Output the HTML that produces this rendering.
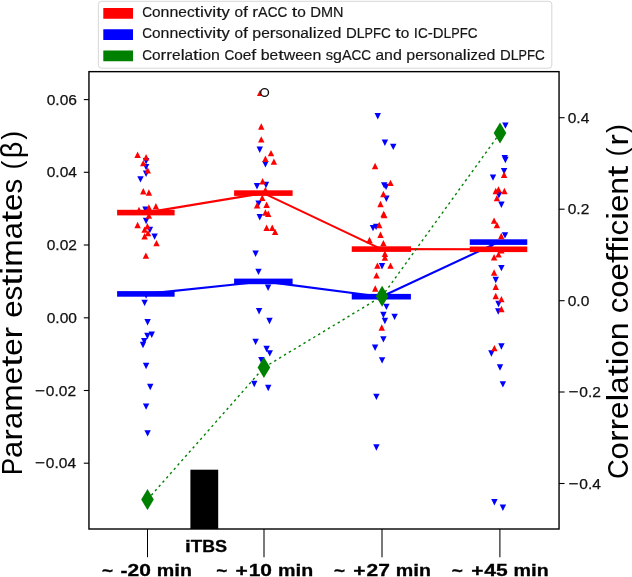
<!DOCTYPE html>
<html><head><meta charset="utf-8"><title>Figure</title>
<style>
html,body{margin:0;padding:0;background:#fff;}
body{width:632px;height:577px;overflow:hidden;font-family:"Liberation Sans",sans-serif;}
svg{display:block;will-change:transform;filter:blur(0.4px);}
text{font-family:"Liberation Sans",sans-serif;}
</style></head><body>
<svg width="632" height="577" viewBox="0 0 632 577">
<rect width="632" height="577" fill="#fff"/>

<rect x="190.4" y="469.7" width="27.8" height="59.3" fill="#000"/>
<g>
<path d="M146.10 164.45L149.30 158.05L142.90 158.05Z" fill="#0000ff"/>
<path d="M146.10 170.30L149.30 163.90L142.90 163.90Z" fill="#0000ff"/>
<path d="M146.10 176.95L149.30 170.55L142.90 170.55Z" fill="#0000ff"/>
<path d="M140.50 182.60L143.70 176.20L137.30 176.20Z" fill="#0000ff"/>
<path d="M145.50 212.90L148.70 206.50L142.30 206.50Z" fill="#0000ff"/>
<path d="M146.10 224.20L149.30 217.80L142.90 217.80Z" fill="#0000ff"/>
<path d="M149.90 233.20L153.10 226.80L146.70 226.80Z" fill="#0000ff"/>
<path d="M154.60 239.80L157.80 233.40L151.40 233.40Z" fill="#0000ff"/>
<path d="M146.10 298.70L149.30 292.30L142.90 292.30Z" fill="#0000ff"/>
<path d="M144.60 306.10L147.80 299.70L141.40 299.70Z" fill="#0000ff"/>
<path d="M147.60 325.45L150.80 319.05L144.40 319.05Z" fill="#0000ff"/>
<path d="M151.75 337.95L154.95 331.55L148.55 331.55Z" fill="#0000ff"/>
<path d="M147.40 339.20L150.60 332.80L144.20 332.80Z" fill="#0000ff"/>
<path d="M144.25 344.45L147.45 338.05L141.05 338.05Z" fill="#0000ff"/>
<path d="M143.00 348.20L146.20 341.80L139.80 341.80Z" fill="#0000ff"/>
<path d="M146.10 369.20L149.30 362.80L142.90 362.80Z" fill="#0000ff"/>
<path d="M150.25 390.20L153.45 383.80L147.05 383.80Z" fill="#0000ff"/>
<path d="M146.10 409.80L149.30 403.40L142.90 403.40Z" fill="#0000ff"/>
<path d="M147.60 436.60L150.80 430.20L144.40 430.20Z" fill="#0000ff"/>
<path d="M259.75 152.95L262.95 146.55L256.55 146.55Z" fill="#0000ff"/>
<path d="M265.40 167.60L268.60 161.20L262.20 161.20Z" fill="#0000ff"/>
<path d="M257.00 189.45L260.20 183.05L253.80 183.05Z" fill="#0000ff"/>
<path d="M266.00 188.20L269.20 181.80L262.80 181.80Z" fill="#0000ff"/>
<path d="M258.60 206.80L261.80 200.40L255.40 200.40Z" fill="#0000ff"/>
<path d="M259.75 220.45L262.95 214.05L256.55 214.05Z" fill="#0000ff"/>
<path d="M255.60 256.95L258.80 250.55L252.40 250.55Z" fill="#0000ff"/>
<path d="M258.50 275.10L261.70 268.70L255.30 268.70Z" fill="#0000ff"/>
<path d="M268.10 290.95L271.30 284.55L264.90 284.55Z" fill="#0000ff"/>
<path d="M259.10 314.45L262.30 308.05L255.90 308.05Z" fill="#0000ff"/>
<path d="M269.50 324.20L272.70 317.80L266.30 317.80Z" fill="#0000ff"/>
<path d="M255.60 345.10L258.80 338.70L252.40 338.70Z" fill="#0000ff"/>
<path d="M266.60 352.20L269.80 345.80L263.40 345.80Z" fill="#0000ff"/>
<path d="M269.75 356.60L272.95 350.20L266.55 350.20Z" fill="#0000ff"/>
<path d="M261.40 363.45L264.60 357.05L258.20 357.05Z" fill="#0000ff"/>
<path d="M254.25 387.20L257.45 380.80L251.05 380.80Z" fill="#0000ff"/>
<path d="M268.25 391.20L271.45 384.80L265.05 384.80Z" fill="#0000ff"/>
<path d="M377.75 119.45L380.95 113.05L374.55 113.05Z" fill="#0000ff"/>
<path d="M384.90 145.95L388.10 139.55L381.70 139.55Z" fill="#0000ff"/>
<path d="M393.25 150.10L396.45 143.70L390.05 143.70Z" fill="#0000ff"/>
<path d="M384.20 188.60L387.40 182.20L381.00 182.20Z" fill="#0000ff"/>
<path d="M386.10 190.10L389.30 183.70L382.90 183.70Z" fill="#0000ff"/>
<path d="M386.40 201.95L389.60 195.55L383.20 195.55Z" fill="#0000ff"/>
<path d="M373.00 231.30L376.20 224.90L369.80 224.90Z" fill="#0000ff"/>
<path d="M376.10 230.10L379.30 223.70L372.90 223.70Z" fill="#0000ff"/>
<path d="M382.00 269.45L385.20 263.05L378.80 263.05Z" fill="#0000ff"/>
<path d="M386.40 310.10L389.60 303.70L383.20 303.70Z" fill="#0000ff"/>
<path d="M383.40 318.20L386.60 311.80L380.20 311.80Z" fill="#0000ff"/>
<path d="M394.60 320.10L397.80 313.70L391.40 313.70Z" fill="#0000ff"/>
<path d="M384.90 324.20L388.10 317.80L381.70 317.80Z" fill="#0000ff"/>
<path d="M383.40 342.60L386.60 336.20L380.20 336.20Z" fill="#0000ff"/>
<path d="M375.10 350.95L378.30 344.55L371.90 344.55Z" fill="#0000ff"/>
<path d="M382.10 363.60L385.30 357.20L378.90 357.20Z" fill="#0000ff"/>
<path d="M376.40 400.10L379.60 393.70L373.20 393.70Z" fill="#0000ff"/>
<path d="M376.40 450.70L379.60 444.30L373.20 444.30Z" fill="#0000ff"/>
<path d="M505.40 128.80L508.60 122.40L502.20 122.40Z" fill="#0000ff"/>
<path d="M504.75 161.30L507.95 154.90L501.55 154.90Z" fill="#0000ff"/>
<path d="M505.40 163.20L508.60 156.80L502.20 156.80Z" fill="#0000ff"/>
<path d="M504.10 174.45L507.30 168.05L500.90 168.05Z" fill="#0000ff"/>
<path d="M493.00 180.80L496.20 174.40L489.80 174.40Z" fill="#0000ff"/>
<path d="M498.90 198.45L502.10 192.05L495.70 192.05Z" fill="#0000ff"/>
<path d="M501.40 207.95L504.60 201.55L498.20 201.55Z" fill="#0000ff"/>
<path d="M505.00 238.60L508.20 232.20L501.80 232.20Z" fill="#0000ff"/>
<path d="M491.60 248.20L494.80 241.80L488.40 241.80Z" fill="#0000ff"/>
<path d="M501.40 271.30L504.60 264.90L498.20 264.90Z" fill="#0000ff"/>
<path d="M495.75 283.20L498.95 276.80L492.55 276.80Z" fill="#0000ff"/>
<path d="M498.50 307.20L501.70 300.80L495.30 300.80Z" fill="#0000ff"/>
<path d="M498.25 314.70L501.45 308.30L495.05 308.30Z" fill="#0000ff"/>
<path d="M501.40 349.70L504.60 343.30L498.20 343.30Z" fill="#0000ff"/>
<path d="M491.40 356.70L494.60 350.30L488.20 350.30Z" fill="#0000ff"/>
<path d="M500.00 370.70L503.20 364.30L496.80 364.30Z" fill="#0000ff"/>
<path d="M502.90 387.60L506.10 381.20L499.70 381.20Z" fill="#0000ff"/>
<path d="M494.40 505.45L497.60 499.05L491.20 499.05Z" fill="#0000ff"/>
<path d="M502.90 510.95L506.10 504.55L499.70 504.55Z" fill="#0000ff"/>
<polyline points="145.85,293.90 263.35,281.40 381.32,296.70 498.50,242.10" fill="none" stroke="#0000ff" stroke-width="2.1" stroke-linejoin="round"/>
<rect x="117.1" y="291.10" width="57.50" height="5.6" fill="#0000ff"/>
<rect x="234.1" y="278.60" width="58.50" height="5.6" fill="#0000ff"/>
<rect x="351.75" y="293.90" width="59.15" height="5.6" fill="#0000ff"/>
<rect x="469.75" y="239.30" width="57.50" height="5.6" fill="#0000ff"/>
</g>
<g>
<path d="M137.60 151.55L140.80 157.95L134.40 157.95Z" fill="#ff0000"/>
<path d="M146.10 154.05L149.30 160.45L142.90 160.45Z" fill="#ff0000"/>
<path d="M143.25 159.90L146.45 166.30L140.05 166.30Z" fill="#ff0000"/>
<path d="M147.75 167.20L150.95 173.60L144.55 173.60Z" fill="#ff0000"/>
<path d="M143.25 188.05L146.45 194.45L140.05 194.45Z" fill="#ff0000"/>
<path d="M148.90 189.30L152.10 195.70L145.70 195.70Z" fill="#ff0000"/>
<path d="M148.90 204.30L152.10 210.70L145.70 210.70Z" fill="#ff0000"/>
<path d="M155.90 203.05L159.10 209.45L152.70 209.45Z" fill="#ff0000"/>
<path d="M139.00 206.80L142.20 213.20L135.80 213.20Z" fill="#ff0000"/>
<path d="M148.90 212.40L152.10 218.80L145.70 218.80Z" fill="#ff0000"/>
<path d="M137.60 221.80L140.80 228.20L134.40 228.20Z" fill="#ff0000"/>
<path d="M147.40 223.05L150.60 229.45L144.20 229.45Z" fill="#ff0000"/>
<path d="M144.60 226.40L147.80 232.80L141.40 232.80Z" fill="#ff0000"/>
<path d="M148.00 229.90L151.20 236.30L144.80 236.30Z" fill="#ff0000"/>
<path d="M144.60 233.05L147.80 239.45L141.40 239.45Z" fill="#ff0000"/>
<path d="M156.50 239.90L159.70 246.30L153.30 246.30Z" fill="#ff0000"/>
<path d="M145.90 252.40L149.10 258.80L142.70 258.80Z" fill="#ff0000"/>
<path d="M260.10 89.70L263.30 96.10L256.90 96.10Z" fill="#ff0000"/>
<path d="M261.25 123.30L264.45 129.70L258.05 129.70Z" fill="#ff0000"/>
<path d="M261.25 136.20L264.45 142.60L258.05 142.60Z" fill="#ff0000"/>
<path d="M271.00 149.90L274.20 156.30L267.80 156.30Z" fill="#ff0000"/>
<path d="M265.40 155.55L268.60 161.95L262.20 161.95Z" fill="#ff0000"/>
<path d="M273.90 158.40L277.10 164.80L270.70 164.80Z" fill="#ff0000"/>
<path d="M262.60 178.05L265.80 184.45L259.40 184.45Z" fill="#ff0000"/>
<path d="M265.40 186.80L268.60 193.20L262.20 193.20Z" fill="#ff0000"/>
<path d="M262.25 194.60L265.45 201.00L259.05 201.00Z" fill="#ff0000"/>
<path d="M266.60 201.50L269.80 207.90L263.40 207.90Z" fill="#ff0000"/>
<path d="M257.10 202.10L260.30 208.50L253.90 208.50Z" fill="#ff0000"/>
<path d="M265.40 209.30L268.60 215.70L262.20 215.70Z" fill="#ff0000"/>
<path d="M268.25 210.55L271.45 216.95L265.05 216.95Z" fill="#ff0000"/>
<path d="M266.60 224.55L269.80 230.95L263.40 230.95Z" fill="#ff0000"/>
<path d="M272.25 224.55L275.45 230.95L269.05 230.95Z" fill="#ff0000"/>
<path d="M275.10 228.70L278.30 235.10L271.90 235.10Z" fill="#ff0000"/>
<path d="M375.10 162.80L378.30 169.20L371.90 169.20Z" fill="#ff0000"/>
<path d="M390.50 179.70L393.70 186.10L387.30 186.10Z" fill="#ff0000"/>
<path d="M383.40 190.80L386.60 197.20L380.20 197.20Z" fill="#ff0000"/>
<path d="M380.50 200.80L383.70 207.20L377.30 207.20Z" fill="#ff0000"/>
<path d="M383.60 210.80L386.80 217.20L380.40 217.20Z" fill="#ff0000"/>
<path d="M384.20 211.80L387.40 218.20L381.00 218.20Z" fill="#ff0000"/>
<path d="M379.25 221.80L382.45 228.20L376.05 228.20Z" fill="#ff0000"/>
<path d="M380.50 231.55L383.70 237.95L377.30 237.95Z" fill="#ff0000"/>
<path d="M369.50 236.80L372.70 243.20L366.30 243.20Z" fill="#ff0000"/>
<path d="M383.40 239.90L386.60 246.30L380.20 246.30Z" fill="#ff0000"/>
<path d="M384.90 250.55L388.10 256.95L381.70 256.95Z" fill="#ff0000"/>
<path d="M384.90 254.30L388.10 260.70L381.70 260.70Z" fill="#ff0000"/>
<path d="M377.40 262.40L380.60 268.80L374.20 268.80Z" fill="#ff0000"/>
<path d="M390.50 262.40L393.70 268.80L387.30 268.80Z" fill="#ff0000"/>
<path d="M376.50 272.20L379.70 278.60L373.30 278.60Z" fill="#ff0000"/>
<path d="M375.25 285.30L378.45 291.70L372.05 291.70Z" fill="#ff0000"/>
<path d="M381.75 324.30L384.95 330.70L378.55 330.70Z" fill="#ff0000"/>
<path d="M504.10 171.50L507.30 177.90L500.90 177.90Z" fill="#ff0000"/>
<path d="M495.75 187.80L498.95 194.20L492.55 194.20Z" fill="#ff0000"/>
<path d="M498.50 186.20L501.70 192.60L495.30 192.60Z" fill="#ff0000"/>
<path d="M504.40 187.80L507.60 194.20L501.20 194.20Z" fill="#ff0000"/>
<path d="M496.90 194.90L500.10 201.30L493.70 201.30Z" fill="#ff0000"/>
<path d="M494.10 217.40L497.30 223.80L490.90 223.80Z" fill="#ff0000"/>
<path d="M496.90 221.80L500.10 228.20L493.70 228.20Z" fill="#ff0000"/>
<path d="M501.25 232.80L504.45 239.20L498.05 239.20Z" fill="#ff0000"/>
<path d="M501.30 247.00L504.50 253.40L498.10 253.40Z" fill="#ff0000"/>
<path d="M498.50 251.20L501.70 257.60L495.30 257.60Z" fill="#ff0000"/>
<path d="M494.10 254.05L497.30 260.45L490.90 260.45Z" fill="#ff0000"/>
<path d="M494.10 269.30L497.30 275.70L490.90 275.70Z" fill="#ff0000"/>
<path d="M495.75 283.50L498.95 289.90L492.55 289.90Z" fill="#ff0000"/>
<path d="M495.75 292.80L498.95 299.20L492.55 299.20Z" fill="#ff0000"/>
<path d="M501.40 295.90L504.60 302.30L498.20 302.30Z" fill="#ff0000"/>
<path d="M501.40 305.80L504.60 312.20L498.20 312.20Z" fill="#ff0000"/>
<path d="M494.40 344.90L497.60 351.30L491.20 351.30Z" fill="#ff0000"/>
<polyline points="145.85,212.60 263.35,193.10 381.38,249.10 498.50,249.30" fill="none" stroke="#ff0000" stroke-width="2.1" stroke-linejoin="round"/>
<rect x="117.1" y="209.80" width="57.50" height="5.6" fill="#ff0000"/>
<rect x="234.1" y="190.30" width="58.50" height="5.6" fill="#ff0000"/>
<rect x="351.75" y="246.30" width="59.25" height="5.6" fill="#ff0000"/>
<rect x="469.75" y="246.50" width="57.50" height="5.6" fill="#ff0000"/>
</g>
<circle cx="264.6" cy="92.5" r="3.9" fill="#fff" stroke="#111" stroke-width="1.4"/>
<polyline points="147.50,499.60 263.90,367.50 382.10,296.25 500.00,133.10" fill="none" stroke="#008000" stroke-width="1.4" stroke-dasharray="2.4 3.3"/>
<path d="M147.5 489.1L153.8 499.6L147.5 510.1L141.2 499.6Z" fill="#008000"/>
<path d="M263.9 357.0L270.2 367.5L263.9 378.0L257.59999999999997 367.5Z" fill="#008000"/>
<path d="M382.1 285.75L388.40000000000003 296.25L382.1 306.75L375.8 296.25Z" fill="#008000"/>
<path d="M500 122.6L506.3 133.1L500 143.6L493.7 133.1Z" fill="#008000"/>
<rect x="88.95" y="71.65" width="470.09999999999997" height="457.35" fill="none" stroke="#000" stroke-width="1.4"/>
<line x1="83.8" y1="99.6" x2="88.95" y2="99.6" stroke="#000" stroke-width="1.1"/>
<text x="46.70" y="104.6" font-size="15.4" fill="#111" stroke="#111" stroke-width="0.25" textLength="8.65" lengthAdjust="spacingAndGlyphs">0</text>
<text x="55.35" y="104.6" font-size="15.4" fill="#111" stroke="#111" stroke-width="0.25" textLength="4.32" lengthAdjust="spacingAndGlyphs">.</text>
<text x="59.68" y="104.6" font-size="15.4" fill="#111" stroke="#111" stroke-width="0.25" textLength="8.65" lengthAdjust="spacingAndGlyphs">0</text>
<text x="68.33" y="104.6" font-size="15.4" fill="#111" stroke="#111" stroke-width="0.25" textLength="8.65" lengthAdjust="spacingAndGlyphs">6</text>
<line x1="83.8" y1="172.3" x2="88.95" y2="172.3" stroke="#000" stroke-width="1.1"/>
<text x="46.70" y="177.3" font-size="15.4" fill="#111" stroke="#111" stroke-width="0.25" textLength="8.65" lengthAdjust="spacingAndGlyphs">0</text>
<text x="55.35" y="177.3" font-size="15.4" fill="#111" stroke="#111" stroke-width="0.25" textLength="4.32" lengthAdjust="spacingAndGlyphs">.</text>
<text x="59.68" y="177.3" font-size="15.4" fill="#111" stroke="#111" stroke-width="0.25" textLength="8.65" lengthAdjust="spacingAndGlyphs">0</text>
<text x="68.33" y="177.3" font-size="15.4" fill="#111" stroke="#111" stroke-width="0.25" textLength="8.65" lengthAdjust="spacingAndGlyphs">4</text>
<line x1="83.8" y1="245.0" x2="88.95" y2="245.0" stroke="#000" stroke-width="1.1"/>
<text x="46.70" y="250.0" font-size="15.4" fill="#111" stroke="#111" stroke-width="0.25" textLength="8.65" lengthAdjust="spacingAndGlyphs">0</text>
<text x="55.35" y="250.0" font-size="15.4" fill="#111" stroke="#111" stroke-width="0.25" textLength="4.32" lengthAdjust="spacingAndGlyphs">.</text>
<text x="59.68" y="250.0" font-size="15.4" fill="#111" stroke="#111" stroke-width="0.25" textLength="8.65" lengthAdjust="spacingAndGlyphs">0</text>
<text x="68.33" y="250.0" font-size="15.4" fill="#111" stroke="#111" stroke-width="0.25" textLength="8.65" lengthAdjust="spacingAndGlyphs">2</text>
<line x1="83.8" y1="317.8" x2="88.95" y2="317.8" stroke="#000" stroke-width="1.1"/>
<text x="46.70" y="322.8" font-size="15.4" fill="#111" stroke="#111" stroke-width="0.25" textLength="8.65" lengthAdjust="spacingAndGlyphs">0</text>
<text x="55.35" y="322.8" font-size="15.4" fill="#111" stroke="#111" stroke-width="0.25" textLength="4.32" lengthAdjust="spacingAndGlyphs">.</text>
<text x="59.68" y="322.8" font-size="15.4" fill="#111" stroke="#111" stroke-width="0.25" textLength="8.65" lengthAdjust="spacingAndGlyphs">0</text>
<text x="68.33" y="322.8" font-size="15.4" fill="#111" stroke="#111" stroke-width="0.25" textLength="8.65" lengthAdjust="spacingAndGlyphs">0</text>
<line x1="83.8" y1="390.5" x2="88.95" y2="390.5" stroke="#000" stroke-width="1.1"/>
<text x="35.13" y="395.5" font-size="15.4" fill="#111" stroke="#111" stroke-width="0.25" textLength="10.03" lengthAdjust="spacingAndGlyphs">−</text>
<text x="45.85" y="395.5" font-size="15.4" fill="#111" stroke="#111" stroke-width="0.25" textLength="8.65" lengthAdjust="spacingAndGlyphs">0</text>
<text x="54.50" y="395.5" font-size="15.4" fill="#111" stroke="#111" stroke-width="0.25" textLength="4.32" lengthAdjust="spacingAndGlyphs">.</text>
<text x="58.82" y="395.5" font-size="15.4" fill="#111" stroke="#111" stroke-width="0.25" textLength="8.65" lengthAdjust="spacingAndGlyphs">0</text>
<text x="67.47" y="395.5" font-size="15.4" fill="#111" stroke="#111" stroke-width="0.25" textLength="8.65" lengthAdjust="spacingAndGlyphs">2</text>
<line x1="83.8" y1="463.2" x2="88.95" y2="463.2" stroke="#000" stroke-width="1.1"/>
<text x="35.13" y="468.2" font-size="15.4" fill="#111" stroke="#111" stroke-width="0.25" textLength="10.03" lengthAdjust="spacingAndGlyphs">−</text>
<text x="45.85" y="468.2" font-size="15.4" fill="#111" stroke="#111" stroke-width="0.25" textLength="8.65" lengthAdjust="spacingAndGlyphs">0</text>
<text x="54.50" y="468.2" font-size="15.4" fill="#111" stroke="#111" stroke-width="0.25" textLength="4.32" lengthAdjust="spacingAndGlyphs">.</text>
<text x="58.82" y="468.2" font-size="15.4" fill="#111" stroke="#111" stroke-width="0.25" textLength="8.65" lengthAdjust="spacingAndGlyphs">0</text>
<text x="67.47" y="468.2" font-size="15.4" fill="#111" stroke="#111" stroke-width="0.25" textLength="8.65" lengthAdjust="spacingAndGlyphs">4</text>
<line x1="559.05" y1="117.7" x2="564.6" y2="117.7" stroke="#000" stroke-width="1.1"/>
<text x="567.70" y="122.7" font-size="15.4" fill="#111" stroke="#111" stroke-width="0.25" textLength="8.65" lengthAdjust="spacingAndGlyphs">0</text>
<text x="576.35" y="122.7" font-size="15.4" fill="#111" stroke="#111" stroke-width="0.25" textLength="4.32" lengthAdjust="spacingAndGlyphs">.</text>
<text x="580.68" y="122.7" font-size="15.4" fill="#111" stroke="#111" stroke-width="0.25" textLength="8.65" lengthAdjust="spacingAndGlyphs">4</text>
<line x1="559.05" y1="209.2" x2="564.6" y2="209.2" stroke="#000" stroke-width="1.1"/>
<text x="567.70" y="214.2" font-size="15.4" fill="#111" stroke="#111" stroke-width="0.25" textLength="8.65" lengthAdjust="spacingAndGlyphs">0</text>
<text x="576.35" y="214.2" font-size="15.4" fill="#111" stroke="#111" stroke-width="0.25" textLength="4.32" lengthAdjust="spacingAndGlyphs">.</text>
<text x="580.68" y="214.2" font-size="15.4" fill="#111" stroke="#111" stroke-width="0.25" textLength="8.65" lengthAdjust="spacingAndGlyphs">2</text>
<line x1="559.05" y1="300.7" x2="564.6" y2="300.7" stroke="#000" stroke-width="1.1"/>
<text x="567.70" y="305.7" font-size="15.4" fill="#111" stroke="#111" stroke-width="0.25" textLength="8.65" lengthAdjust="spacingAndGlyphs">0</text>
<text x="576.35" y="305.7" font-size="15.4" fill="#111" stroke="#111" stroke-width="0.25" textLength="4.32" lengthAdjust="spacingAndGlyphs">.</text>
<text x="580.68" y="305.7" font-size="15.4" fill="#111" stroke="#111" stroke-width="0.25" textLength="8.65" lengthAdjust="spacingAndGlyphs">0</text>
<line x1="559.05" y1="392.0" x2="564.6" y2="392.0" stroke="#000" stroke-width="1.1"/>
<text x="568.53" y="397.0" font-size="15.4" fill="#111" stroke="#111" stroke-width="0.25" textLength="10.03" lengthAdjust="spacingAndGlyphs">−</text>
<text x="579.25" y="397.0" font-size="15.4" fill="#111" stroke="#111" stroke-width="0.25" textLength="8.65" lengthAdjust="spacingAndGlyphs">0</text>
<text x="587.90" y="397.0" font-size="15.4" fill="#111" stroke="#111" stroke-width="0.25" textLength="4.32" lengthAdjust="spacingAndGlyphs">.</text>
<text x="592.22" y="397.0" font-size="15.4" fill="#111" stroke="#111" stroke-width="0.25" textLength="8.65" lengthAdjust="spacingAndGlyphs">2</text>
<line x1="559.05" y1="483.5" x2="564.6" y2="483.5" stroke="#000" stroke-width="1.1"/>
<text x="568.53" y="488.5" font-size="15.4" fill="#111" stroke="#111" stroke-width="0.25" textLength="10.03" lengthAdjust="spacingAndGlyphs">−</text>
<text x="579.25" y="488.5" font-size="15.4" fill="#111" stroke="#111" stroke-width="0.25" textLength="8.65" lengthAdjust="spacingAndGlyphs">0</text>
<text x="587.90" y="488.5" font-size="15.4" fill="#111" stroke="#111" stroke-width="0.25" textLength="4.32" lengthAdjust="spacingAndGlyphs">.</text>
<text x="592.22" y="488.5" font-size="15.4" fill="#111" stroke="#111" stroke-width="0.25" textLength="8.65" lengthAdjust="spacingAndGlyphs">4</text>
<line x1="147.5" y1="529.0" x2="147.5" y2="557.2" stroke="#000" stroke-width="1.05"/>
<text x="102.05" y="576.0" font-size="17" font-weight="bold" fill="#000" stroke="#000" stroke-width="0.3" textLength="11.12" lengthAdjust="spacingAndGlyphs">~</text>
<text x="120.50" y="576.0" font-size="17" font-weight="bold" fill="#000" stroke="#000" stroke-width="0.3" textLength="6.97" lengthAdjust="spacingAndGlyphs">-</text>
<text x="127.47" y="576.0" font-size="17" font-weight="bold" fill="#000" stroke="#000" stroke-width="0.3" textLength="11.69" lengthAdjust="spacingAndGlyphs">2</text>
<text x="139.16" y="576.0" font-size="17" font-weight="bold" fill="#000" stroke="#000" stroke-width="0.3" textLength="11.69" lengthAdjust="spacingAndGlyphs">0</text>
<text x="156.70" y="576.0" font-size="17" font-weight="bold" fill="#000" stroke="#000" stroke-width="0.3" textLength="17.51" lengthAdjust="spacingAndGlyphs">m</text>
<text x="174.21" y="576.0" font-size="17" font-weight="bold" fill="#000" stroke="#000" stroke-width="0.3" textLength="5.76" lengthAdjust="spacingAndGlyphs">i</text>
<text x="179.96" y="576.0" font-size="17" font-weight="bold" fill="#000" stroke="#000" stroke-width="0.3" textLength="11.96" lengthAdjust="spacingAndGlyphs">n</text>
<line x1="264.0" y1="529.0" x2="264.0" y2="557.2" stroke="#000" stroke-width="1.05"/>
<text x="216.15" y="576.0" font-size="17" font-weight="bold" fill="#000" stroke="#000" stroke-width="0.3" textLength="11.12" lengthAdjust="spacingAndGlyphs">~</text>
<text x="235.51" y="576.0" font-size="17" font-weight="bold" fill="#000" stroke="#000" stroke-width="0.3" textLength="12.25" lengthAdjust="spacingAndGlyphs">+</text>
<text x="248.67" y="576.0" font-size="17" font-weight="bold" fill="#000" stroke="#000" stroke-width="0.3" textLength="11.69" lengthAdjust="spacingAndGlyphs">1</text>
<text x="260.36" y="576.0" font-size="17" font-weight="bold" fill="#000" stroke="#000" stroke-width="0.3" textLength="11.69" lengthAdjust="spacingAndGlyphs">0</text>
<text x="277.90" y="576.0" font-size="17" font-weight="bold" fill="#000" stroke="#000" stroke-width="0.3" textLength="17.51" lengthAdjust="spacingAndGlyphs">m</text>
<text x="295.41" y="576.0" font-size="17" font-weight="bold" fill="#000" stroke="#000" stroke-width="0.3" textLength="5.76" lengthAdjust="spacingAndGlyphs">i</text>
<text x="301.17" y="576.0" font-size="17" font-weight="bold" fill="#000" stroke="#000" stroke-width="0.3" textLength="11.96" lengthAdjust="spacingAndGlyphs">n</text>
<line x1="382.0" y1="529.0" x2="382.0" y2="557.2" stroke="#000" stroke-width="1.05"/>
<text x="333.95" y="576.0" font-size="17" font-weight="bold" fill="#000" stroke="#000" stroke-width="0.3" textLength="11.12" lengthAdjust="spacingAndGlyphs">~</text>
<text x="353.31" y="576.0" font-size="17" font-weight="bold" fill="#000" stroke="#000" stroke-width="0.3" textLength="12.25" lengthAdjust="spacingAndGlyphs">+</text>
<text x="366.47" y="576.0" font-size="17" font-weight="bold" fill="#000" stroke="#000" stroke-width="0.3" textLength="11.69" lengthAdjust="spacingAndGlyphs">2</text>
<text x="378.16" y="576.0" font-size="17" font-weight="bold" fill="#000" stroke="#000" stroke-width="0.3" textLength="11.69" lengthAdjust="spacingAndGlyphs">7</text>
<text x="395.70" y="576.0" font-size="17" font-weight="bold" fill="#000" stroke="#000" stroke-width="0.3" textLength="17.51" lengthAdjust="spacingAndGlyphs">m</text>
<text x="413.21" y="576.0" font-size="17" font-weight="bold" fill="#000" stroke="#000" stroke-width="0.3" textLength="5.76" lengthAdjust="spacingAndGlyphs">i</text>
<text x="418.97" y="576.0" font-size="17" font-weight="bold" fill="#000" stroke="#000" stroke-width="0.3" textLength="11.96" lengthAdjust="spacingAndGlyphs">n</text>
<line x1="499.9" y1="529.0" x2="499.9" y2="557.2" stroke="#000" stroke-width="1.05"/>
<text x="451.85" y="576.0" font-size="17" font-weight="bold" fill="#000" stroke="#000" stroke-width="0.3" textLength="11.12" lengthAdjust="spacingAndGlyphs">~</text>
<text x="471.21" y="576.0" font-size="17" font-weight="bold" fill="#000" stroke="#000" stroke-width="0.3" textLength="12.25" lengthAdjust="spacingAndGlyphs">+</text>
<text x="484.38" y="576.0" font-size="17" font-weight="bold" fill="#000" stroke="#000" stroke-width="0.3" textLength="11.69" lengthAdjust="spacingAndGlyphs">4</text>
<text x="496.06" y="576.0" font-size="17" font-weight="bold" fill="#000" stroke="#000" stroke-width="0.3" textLength="11.69" lengthAdjust="spacingAndGlyphs">5</text>
<text x="513.60" y="576.0" font-size="17" font-weight="bold" fill="#000" stroke="#000" stroke-width="0.3" textLength="17.51" lengthAdjust="spacingAndGlyphs">m</text>
<text x="531.11" y="576.0" font-size="17" font-weight="bold" fill="#000" stroke="#000" stroke-width="0.3" textLength="5.76" lengthAdjust="spacingAndGlyphs">i</text>
<text x="536.87" y="576.0" font-size="17" font-weight="bold" fill="#000" stroke="#000" stroke-width="0.3" textLength="11.96" lengthAdjust="spacingAndGlyphs">n</text>
<text x="185.04" y="552.0" font-size="17" font-weight="bold" fill="#000" stroke="#000" stroke-width="0.3" textLength="5.76" lengthAdjust="spacingAndGlyphs">i</text>
<text x="190.80" y="552.0" font-size="17" font-weight="bold" fill="#000" stroke="#000" stroke-width="0.3" textLength="11.46" lengthAdjust="spacingAndGlyphs">T</text>
<text x="202.26" y="552.0" font-size="17" font-weight="bold" fill="#000" stroke="#000" stroke-width="0.3" textLength="12.81" lengthAdjust="spacingAndGlyphs">B</text>
<text x="215.06" y="552.0" font-size="17" font-weight="bold" fill="#000" stroke="#000" stroke-width="0.3" textLength="12.10" lengthAdjust="spacingAndGlyphs">S</text>
<text transform="translate(22.2 475.00) rotate(-90)" font-size="29" fill="#000" textLength="17.03" lengthAdjust="spacingAndGlyphs">P</text>
<text transform="translate(22.2 457.97) rotate(-90)" font-size="29" fill="#000" textLength="17.31" lengthAdjust="spacingAndGlyphs">a</text>
<text transform="translate(22.2 440.67) rotate(-90)" font-size="29" fill="#000" textLength="11.61" lengthAdjust="spacingAndGlyphs">r</text>
<text transform="translate(22.2 429.05) rotate(-90)" font-size="29" fill="#000" textLength="17.31" lengthAdjust="spacingAndGlyphs">a</text>
<text transform="translate(22.2 411.75) rotate(-90)" font-size="29" fill="#000" textLength="27.51" lengthAdjust="spacingAndGlyphs">m</text>
<text transform="translate(22.2 384.24) rotate(-90)" font-size="29" fill="#000" textLength="17.37" lengthAdjust="spacingAndGlyphs">e</text>
<text transform="translate(22.2 366.87) rotate(-90)" font-size="29" fill="#000" textLength="11.07" lengthAdjust="spacingAndGlyphs">t</text>
<text transform="translate(22.2 355.79) rotate(-90)" font-size="29" fill="#000" textLength="17.37" lengthAdjust="spacingAndGlyphs">e</text>
<text transform="translate(22.2 338.42) rotate(-90)" font-size="29" fill="#000" textLength="11.61" lengthAdjust="spacingAndGlyphs">r</text>
<text transform="translate(22.2 317.83) rotate(-90)" font-size="29" fill="#000" textLength="17.37" lengthAdjust="spacingAndGlyphs">e</text>
<text transform="translate(22.2 300.46) rotate(-90)" font-size="29" fill="#000" textLength="14.71" lengthAdjust="spacingAndGlyphs">s</text>
<text transform="translate(22.2 285.75) rotate(-90)" font-size="29" fill="#000" textLength="11.07" lengthAdjust="spacingAndGlyphs">t</text>
<text transform="translate(22.2 274.67) rotate(-90)" font-size="29" fill="#000" textLength="7.85" lengthAdjust="spacingAndGlyphs">i</text>
<text transform="translate(22.2 266.83) rotate(-90)" font-size="29" fill="#000" textLength="27.51" lengthAdjust="spacingAndGlyphs">m</text>
<text transform="translate(22.2 239.32) rotate(-90)" font-size="29" fill="#000" textLength="17.31" lengthAdjust="spacingAndGlyphs">a</text>
<text transform="translate(22.2 222.01) rotate(-90)" font-size="29" fill="#000" textLength="11.07" lengthAdjust="spacingAndGlyphs">t</text>
<text transform="translate(22.2 210.94) rotate(-90)" font-size="29" fill="#000" textLength="17.37" lengthAdjust="spacingAndGlyphs">e</text>
<text transform="translate(22.2 193.57) rotate(-90)" font-size="29" fill="#000" textLength="14.71" lengthAdjust="spacingAndGlyphs">s</text>
<text transform="translate(20.7 169.57) rotate(-90)" font-size="28.5" fill="#000" textLength="8.81" lengthAdjust="spacingAndGlyphs">(</text>
<text transform="translate(22.2 158.14) rotate(-90)" font-size="29" fill="#000" textLength="16.58" lengthAdjust="spacingAndGlyphs">β</text>
<text transform="translate(20.7 139.73) rotate(-90)" font-size="28.5" fill="#000" textLength="8.81" lengthAdjust="spacingAndGlyphs">)</text>
<text transform="translate(627.6 479.10) rotate(-90)" font-size="29" fill="#000" textLength="19.72" lengthAdjust="spacingAndGlyphs">C</text>
<text transform="translate(627.6 459.38) rotate(-90)" font-size="29" fill="#000" textLength="17.28" lengthAdjust="spacingAndGlyphs">o</text>
<text transform="translate(627.6 442.10) rotate(-90)" font-size="29" fill="#000" textLength="11.61" lengthAdjust="spacingAndGlyphs">r</text>
<text transform="translate(627.6 430.49) rotate(-90)" font-size="29" fill="#000" textLength="11.61" lengthAdjust="spacingAndGlyphs">r</text>
<text transform="translate(627.6 418.88) rotate(-90)" font-size="29" fill="#000" textLength="17.37" lengthAdjust="spacingAndGlyphs">e</text>
<text transform="translate(627.6 401.51) rotate(-90)" font-size="29" fill="#000" textLength="7.85" lengthAdjust="spacingAndGlyphs">l</text>
<text transform="translate(627.6 393.66) rotate(-90)" font-size="29" fill="#000" textLength="17.31" lengthAdjust="spacingAndGlyphs">a</text>
<text transform="translate(627.6 376.36) rotate(-90)" font-size="29" fill="#000" textLength="11.07" lengthAdjust="spacingAndGlyphs">t</text>
<text transform="translate(627.6 365.29) rotate(-90)" font-size="29" fill="#000" textLength="7.85" lengthAdjust="spacingAndGlyphs">i</text>
<text transform="translate(627.6 357.44) rotate(-90)" font-size="29" fill="#000" textLength="17.28" lengthAdjust="spacingAndGlyphs">o</text>
<text transform="translate(627.6 340.16) rotate(-90)" font-size="29" fill="#000" textLength="17.90" lengthAdjust="spacingAndGlyphs">n</text>
<text transform="translate(627.6 313.29) rotate(-90)" font-size="29" fill="#000" textLength="15.53" lengthAdjust="spacingAndGlyphs">c</text>
<text transform="translate(627.6 297.76) rotate(-90)" font-size="29" fill="#000" textLength="17.28" lengthAdjust="spacingAndGlyphs">o</text>
<text transform="translate(627.6 280.48) rotate(-90)" font-size="29" fill="#000" textLength="17.37" lengthAdjust="spacingAndGlyphs">e</text>
<text transform="translate(627.6 263.11) rotate(-90)" font-size="29" fill="#000" textLength="9.94" lengthAdjust="spacingAndGlyphs">f</text>
<text transform="translate(627.6 253.17) rotate(-90)" font-size="29" fill="#000" textLength="9.94" lengthAdjust="spacingAndGlyphs">f</text>
<text transform="translate(627.6 243.22) rotate(-90)" font-size="29" fill="#000" textLength="7.85" lengthAdjust="spacingAndGlyphs">i</text>
<text transform="translate(627.6 235.38) rotate(-90)" font-size="29" fill="#000" textLength="15.53" lengthAdjust="spacingAndGlyphs">c</text>
<text transform="translate(627.6 219.85) rotate(-90)" font-size="29" fill="#000" textLength="7.85" lengthAdjust="spacingAndGlyphs">i</text>
<text transform="translate(627.6 212.01) rotate(-90)" font-size="29" fill="#000" textLength="17.37" lengthAdjust="spacingAndGlyphs">e</text>
<text transform="translate(627.6 194.63) rotate(-90)" font-size="29" fill="#000" textLength="17.90" lengthAdjust="spacingAndGlyphs">n</text>
<text transform="translate(627.6 176.73) rotate(-90)" font-size="29" fill="#000" textLength="11.07" lengthAdjust="spacingAndGlyphs">t</text>
<text transform="translate(626.1 156.38) rotate(-90)" font-size="28.5" fill="#000" textLength="8.81" lengthAdjust="spacingAndGlyphs">(</text>
<text transform="translate(627.6 145.67) rotate(-90)" font-size="29" fill="#000" textLength="11.61" lengthAdjust="spacingAndGlyphs">r</text>
<text transform="translate(626.1 132.95) rotate(-90)" font-size="28.5" fill="#000" textLength="8.81" lengthAdjust="spacingAndGlyphs">)</text>
<rect x="98.4" y="1.3" width="453.4" height="66.9" rx="3" ry="3" fill="#fff" fill-opacity="0.8" stroke="#d2d2d2" stroke-width="0.9"/>
<rect x="103.3" y="8.0" width="29.7" height="10.75" fill="#ff0000"/>
<text x="142.20" y="17.2" font-size="15.5" fill="#161616" stroke="#161616" stroke-width="0.18" textLength="9.78" lengthAdjust="spacingAndGlyphs">C</text>
<text x="151.98" y="17.2" font-size="15.5" fill="#161616" stroke="#161616" stroke-width="0.18" textLength="8.57" lengthAdjust="spacingAndGlyphs">o</text>
<text x="160.54" y="17.2" font-size="15.5" fill="#161616" stroke="#161616" stroke-width="0.18" textLength="8.87" lengthAdjust="spacingAndGlyphs">n</text>
<text x="169.41" y="17.2" font-size="15.5" fill="#161616" stroke="#161616" stroke-width="0.18" textLength="8.87" lengthAdjust="spacingAndGlyphs">n</text>
<text x="178.29" y="17.2" font-size="15.5" fill="#161616" stroke="#161616" stroke-width="0.18" textLength="8.61" lengthAdjust="spacingAndGlyphs">e</text>
<text x="186.90" y="17.2" font-size="15.5" fill="#161616" stroke="#161616" stroke-width="0.18" textLength="7.70" lengthAdjust="spacingAndGlyphs">c</text>
<text x="194.60" y="17.2" font-size="15.5" fill="#161616" stroke="#161616" stroke-width="0.18" textLength="5.49" lengthAdjust="spacingAndGlyphs">t</text>
<text x="200.09" y="17.2" font-size="15.5" fill="#161616" stroke="#161616" stroke-width="0.18" textLength="3.89" lengthAdjust="spacingAndGlyphs">i</text>
<text x="203.98" y="17.2" font-size="15.5" fill="#161616" stroke="#161616" stroke-width="0.18" textLength="8.29" lengthAdjust="spacingAndGlyphs">v</text>
<text x="212.26" y="17.2" font-size="15.5" fill="#161616" stroke="#161616" stroke-width="0.18" textLength="3.89" lengthAdjust="spacingAndGlyphs">i</text>
<text x="216.15" y="17.2" font-size="15.5" fill="#161616" stroke="#161616" stroke-width="0.18" textLength="5.49" lengthAdjust="spacingAndGlyphs">t</text>
<text x="221.64" y="17.2" font-size="15.5" fill="#161616" stroke="#161616" stroke-width="0.18" textLength="8.29" lengthAdjust="spacingAndGlyphs">y</text>
<text x="234.38" y="17.2" font-size="15.5" fill="#161616" stroke="#161616" stroke-width="0.18" textLength="8.57" lengthAdjust="spacingAndGlyphs">o</text>
<text x="242.94" y="17.2" font-size="15.5" fill="#161616" stroke="#161616" stroke-width="0.18" textLength="4.93" lengthAdjust="spacingAndGlyphs">f</text>
<text x="252.32" y="17.2" font-size="15.5" fill="#161616" stroke="#161616" stroke-width="0.18" textLength="5.76" lengthAdjust="spacingAndGlyphs">r</text>
<text x="258.08" y="17.2" font-size="15.5" fill="#161616" stroke="#161616" stroke-width="0.18" textLength="9.58" lengthAdjust="spacingAndGlyphs">A</text>
<text x="267.65" y="17.2" font-size="15.5" fill="#161616" stroke="#161616" stroke-width="0.18" textLength="9.78" lengthAdjust="spacingAndGlyphs">C</text>
<text x="277.43" y="17.2" font-size="15.5" fill="#161616" stroke="#161616" stroke-width="0.18" textLength="9.78" lengthAdjust="spacingAndGlyphs">C</text>
<text x="291.65" y="17.2" font-size="15.5" fill="#161616" stroke="#161616" stroke-width="0.18" textLength="5.49" lengthAdjust="spacingAndGlyphs">t</text>
<text x="297.14" y="17.2" font-size="15.5" fill="#161616" stroke="#161616" stroke-width="0.18" textLength="8.57" lengthAdjust="spacingAndGlyphs">o</text>
<text x="310.16" y="17.2" font-size="15.5" fill="#161616" stroke="#161616" stroke-width="0.18" textLength="10.78" lengthAdjust="spacingAndGlyphs">D</text>
<text x="320.94" y="17.2" font-size="15.5" fill="#161616" stroke="#161616" stroke-width="0.18" textLength="12.08" lengthAdjust="spacingAndGlyphs">M</text>
<text x="333.02" y="17.2" font-size="15.5" fill="#161616" stroke="#161616" stroke-width="0.18" textLength="10.47" lengthAdjust="spacingAndGlyphs">N</text>
<rect x="103.3" y="29.25" width="29.7" height="10.75" fill="#0000ff"/>
<text x="142.20" y="38.4" font-size="15.5" fill="#161616" stroke="#161616" stroke-width="0.18" textLength="9.78" lengthAdjust="spacingAndGlyphs">C</text>
<text x="151.98" y="38.4" font-size="15.5" fill="#161616" stroke="#161616" stroke-width="0.18" textLength="8.57" lengthAdjust="spacingAndGlyphs">o</text>
<text x="160.54" y="38.4" font-size="15.5" fill="#161616" stroke="#161616" stroke-width="0.18" textLength="8.87" lengthAdjust="spacingAndGlyphs">n</text>
<text x="169.41" y="38.4" font-size="15.5" fill="#161616" stroke="#161616" stroke-width="0.18" textLength="8.87" lengthAdjust="spacingAndGlyphs">n</text>
<text x="178.29" y="38.4" font-size="15.5" fill="#161616" stroke="#161616" stroke-width="0.18" textLength="8.61" lengthAdjust="spacingAndGlyphs">e</text>
<text x="186.90" y="38.4" font-size="15.5" fill="#161616" stroke="#161616" stroke-width="0.18" textLength="7.70" lengthAdjust="spacingAndGlyphs">c</text>
<text x="194.60" y="38.4" font-size="15.5" fill="#161616" stroke="#161616" stroke-width="0.18" textLength="5.49" lengthAdjust="spacingAndGlyphs">t</text>
<text x="200.09" y="38.4" font-size="15.5" fill="#161616" stroke="#161616" stroke-width="0.18" textLength="3.89" lengthAdjust="spacingAndGlyphs">i</text>
<text x="203.98" y="38.4" font-size="15.5" fill="#161616" stroke="#161616" stroke-width="0.18" textLength="8.29" lengthAdjust="spacingAndGlyphs">v</text>
<text x="212.26" y="38.4" font-size="15.5" fill="#161616" stroke="#161616" stroke-width="0.18" textLength="3.89" lengthAdjust="spacingAndGlyphs">i</text>
<text x="216.15" y="38.4" font-size="15.5" fill="#161616" stroke="#161616" stroke-width="0.18" textLength="5.49" lengthAdjust="spacingAndGlyphs">t</text>
<text x="221.64" y="38.4" font-size="15.5" fill="#161616" stroke="#161616" stroke-width="0.18" textLength="8.29" lengthAdjust="spacingAndGlyphs">y</text>
<text x="234.38" y="38.4" font-size="15.5" fill="#161616" stroke="#161616" stroke-width="0.18" textLength="8.57" lengthAdjust="spacingAndGlyphs">o</text>
<text x="242.94" y="38.4" font-size="15.5" fill="#161616" stroke="#161616" stroke-width="0.18" textLength="4.93" lengthAdjust="spacingAndGlyphs">f</text>
<text x="252.32" y="38.4" font-size="15.5" fill="#161616" stroke="#161616" stroke-width="0.18" textLength="8.89" lengthAdjust="spacingAndGlyphs">p</text>
<text x="261.21" y="38.4" font-size="15.5" fill="#161616" stroke="#161616" stroke-width="0.18" textLength="8.61" lengthAdjust="spacingAndGlyphs">e</text>
<text x="269.82" y="38.4" font-size="15.5" fill="#161616" stroke="#161616" stroke-width="0.18" textLength="5.76" lengthAdjust="spacingAndGlyphs">r</text>
<text x="275.58" y="38.4" font-size="15.5" fill="#161616" stroke="#161616" stroke-width="0.18" textLength="7.29" lengthAdjust="spacingAndGlyphs">s</text>
<text x="282.87" y="38.4" font-size="15.5" fill="#161616" stroke="#161616" stroke-width="0.18" textLength="8.57" lengthAdjust="spacingAndGlyphs">o</text>
<text x="291.44" y="38.4" font-size="15.5" fill="#161616" stroke="#161616" stroke-width="0.18" textLength="8.87" lengthAdjust="spacingAndGlyphs">n</text>
<text x="300.31" y="38.4" font-size="15.5" fill="#161616" stroke="#161616" stroke-width="0.18" textLength="8.58" lengthAdjust="spacingAndGlyphs">a</text>
<text x="308.89" y="38.4" font-size="15.5" fill="#161616" stroke="#161616" stroke-width="0.18" textLength="3.89" lengthAdjust="spacingAndGlyphs">l</text>
<text x="312.78" y="38.4" font-size="15.5" fill="#161616" stroke="#161616" stroke-width="0.18" textLength="3.89" lengthAdjust="spacingAndGlyphs">i</text>
<text x="316.67" y="38.4" font-size="15.5" fill="#161616" stroke="#161616" stroke-width="0.18" textLength="7.35" lengthAdjust="spacingAndGlyphs">z</text>
<text x="324.02" y="38.4" font-size="15.5" fill="#161616" stroke="#161616" stroke-width="0.18" textLength="8.61" lengthAdjust="spacingAndGlyphs">e</text>
<text x="332.63" y="38.4" font-size="15.5" fill="#161616" stroke="#161616" stroke-width="0.18" textLength="8.89" lengthAdjust="spacingAndGlyphs">d</text>
<text x="345.97" y="38.4" font-size="15.5" fill="#161616" stroke="#161616" stroke-width="0.18" textLength="10.78" lengthAdjust="spacingAndGlyphs">D</text>
<text x="356.75" y="38.4" font-size="15.5" fill="#161616" stroke="#161616" stroke-width="0.18" textLength="7.80" lengthAdjust="spacingAndGlyphs">L</text>
<text x="364.55" y="38.4" font-size="15.5" fill="#161616" stroke="#161616" stroke-width="0.18" textLength="8.44" lengthAdjust="spacingAndGlyphs">P</text>
<text x="372.99" y="38.4" font-size="15.5" fill="#161616" stroke="#161616" stroke-width="0.18" textLength="8.05" lengthAdjust="spacingAndGlyphs">F</text>
<text x="381.04" y="38.4" font-size="15.5" fill="#161616" stroke="#161616" stroke-width="0.18" textLength="9.78" lengthAdjust="spacingAndGlyphs">C</text>
<text x="395.27" y="38.4" font-size="15.5" fill="#161616" stroke="#161616" stroke-width="0.18" textLength="5.49" lengthAdjust="spacingAndGlyphs">t</text>
<text x="400.76" y="38.4" font-size="15.5" fill="#161616" stroke="#161616" stroke-width="0.18" textLength="8.57" lengthAdjust="spacingAndGlyphs">o</text>
<text x="413.77" y="38.4" font-size="15.5" fill="#161616" stroke="#161616" stroke-width="0.18" textLength="4.13" lengthAdjust="spacingAndGlyphs">I</text>
<text x="417.90" y="38.4" font-size="15.5" fill="#161616" stroke="#161616" stroke-width="0.18" textLength="9.78" lengthAdjust="spacingAndGlyphs">C</text>
<text x="427.68" y="38.4" font-size="15.5" fill="#161616" stroke="#161616" stroke-width="0.18" textLength="5.05" lengthAdjust="spacingAndGlyphs">-</text>
<text x="432.73" y="38.4" font-size="15.5" fill="#161616" stroke="#161616" stroke-width="0.18" textLength="10.78" lengthAdjust="spacingAndGlyphs">D</text>
<text x="443.51" y="38.4" font-size="15.5" fill="#161616" stroke="#161616" stroke-width="0.18" textLength="7.80" lengthAdjust="spacingAndGlyphs">L</text>
<text x="451.31" y="38.4" font-size="15.5" fill="#161616" stroke="#161616" stroke-width="0.18" textLength="8.44" lengthAdjust="spacingAndGlyphs">P</text>
<text x="459.75" y="38.4" font-size="15.5" fill="#161616" stroke="#161616" stroke-width="0.18" textLength="8.05" lengthAdjust="spacingAndGlyphs">F</text>
<text x="467.80" y="38.4" font-size="15.5" fill="#161616" stroke="#161616" stroke-width="0.18" textLength="9.78" lengthAdjust="spacingAndGlyphs">C</text>
<rect x="103.3" y="50.5" width="29.7" height="10.75" fill="#008000"/>
<text x="142.20" y="59.7" font-size="15.5" fill="#161616" stroke="#161616" stroke-width="0.18" textLength="9.78" lengthAdjust="spacingAndGlyphs">C</text>
<text x="151.98" y="59.7" font-size="15.5" fill="#161616" stroke="#161616" stroke-width="0.18" textLength="8.57" lengthAdjust="spacingAndGlyphs">o</text>
<text x="160.54" y="59.7" font-size="15.5" fill="#161616" stroke="#161616" stroke-width="0.18" textLength="5.76" lengthAdjust="spacingAndGlyphs">r</text>
<text x="166.30" y="59.7" font-size="15.5" fill="#161616" stroke="#161616" stroke-width="0.18" textLength="5.76" lengthAdjust="spacingAndGlyphs">r</text>
<text x="172.05" y="59.7" font-size="15.5" fill="#161616" stroke="#161616" stroke-width="0.18" textLength="8.61" lengthAdjust="spacingAndGlyphs">e</text>
<text x="180.67" y="59.7" font-size="15.5" fill="#161616" stroke="#161616" stroke-width="0.18" textLength="3.89" lengthAdjust="spacingAndGlyphs">l</text>
<text x="184.56" y="59.7" font-size="15.5" fill="#161616" stroke="#161616" stroke-width="0.18" textLength="8.58" lengthAdjust="spacingAndGlyphs">a</text>
<text x="193.13" y="59.7" font-size="15.5" fill="#161616" stroke="#161616" stroke-width="0.18" textLength="5.49" lengthAdjust="spacingAndGlyphs">t</text>
<text x="198.62" y="59.7" font-size="15.5" fill="#161616" stroke="#161616" stroke-width="0.18" textLength="3.89" lengthAdjust="spacingAndGlyphs">i</text>
<text x="202.51" y="59.7" font-size="15.5" fill="#161616" stroke="#161616" stroke-width="0.18" textLength="8.57" lengthAdjust="spacingAndGlyphs">o</text>
<text x="211.08" y="59.7" font-size="15.5" fill="#161616" stroke="#161616" stroke-width="0.18" textLength="8.87" lengthAdjust="spacingAndGlyphs">n</text>
<text x="224.40" y="59.7" font-size="15.5" fill="#161616" stroke="#161616" stroke-width="0.18" textLength="9.78" lengthAdjust="spacingAndGlyphs">C</text>
<text x="234.18" y="59.7" font-size="15.5" fill="#161616" stroke="#161616" stroke-width="0.18" textLength="8.57" lengthAdjust="spacingAndGlyphs">o</text>
<text x="242.74" y="59.7" font-size="15.5" fill="#161616" stroke="#161616" stroke-width="0.18" textLength="8.61" lengthAdjust="spacingAndGlyphs">e</text>
<text x="251.36" y="59.7" font-size="15.5" fill="#161616" stroke="#161616" stroke-width="0.18" textLength="4.93" lengthAdjust="spacingAndGlyphs">f</text>
<text x="260.74" y="59.7" font-size="15.5" fill="#161616" stroke="#161616" stroke-width="0.18" textLength="8.89" lengthAdjust="spacingAndGlyphs">b</text>
<text x="269.62" y="59.7" font-size="15.5" fill="#161616" stroke="#161616" stroke-width="0.18" textLength="8.61" lengthAdjust="spacingAndGlyphs">e</text>
<text x="278.24" y="59.7" font-size="15.5" fill="#161616" stroke="#161616" stroke-width="0.18" textLength="5.49" lengthAdjust="spacingAndGlyphs">t</text>
<text x="283.72" y="59.7" font-size="15.5" fill="#161616" stroke="#161616" stroke-width="0.18" textLength="11.45" lengthAdjust="spacingAndGlyphs">w</text>
<text x="295.17" y="59.7" font-size="15.5" fill="#161616" stroke="#161616" stroke-width="0.18" textLength="8.61" lengthAdjust="spacingAndGlyphs">e</text>
<text x="303.79" y="59.7" font-size="15.5" fill="#161616" stroke="#161616" stroke-width="0.18" textLength="8.61" lengthAdjust="spacingAndGlyphs">e</text>
<text x="312.40" y="59.7" font-size="15.5" fill="#161616" stroke="#161616" stroke-width="0.18" textLength="8.87" lengthAdjust="spacingAndGlyphs">n</text>
<text x="325.72" y="59.7" font-size="15.5" fill="#161616" stroke="#161616" stroke-width="0.18" textLength="7.29" lengthAdjust="spacingAndGlyphs">s</text>
<text x="333.02" y="59.7" font-size="15.5" fill="#161616" stroke="#161616" stroke-width="0.18" textLength="8.89" lengthAdjust="spacingAndGlyphs">g</text>
<text x="341.91" y="59.7" font-size="15.5" fill="#161616" stroke="#161616" stroke-width="0.18" textLength="9.58" lengthAdjust="spacingAndGlyphs">A</text>
<text x="351.48" y="59.7" font-size="15.5" fill="#161616" stroke="#161616" stroke-width="0.18" textLength="9.78" lengthAdjust="spacingAndGlyphs">C</text>
<text x="361.26" y="59.7" font-size="15.5" fill="#161616" stroke="#161616" stroke-width="0.18" textLength="9.78" lengthAdjust="spacingAndGlyphs">C</text>
<text x="375.48" y="59.7" font-size="15.5" fill="#161616" stroke="#161616" stroke-width="0.18" textLength="8.58" lengthAdjust="spacingAndGlyphs">a</text>
<text x="384.06" y="59.7" font-size="15.5" fill="#161616" stroke="#161616" stroke-width="0.18" textLength="8.87" lengthAdjust="spacingAndGlyphs">n</text>
<text x="392.94" y="59.7" font-size="15.5" fill="#161616" stroke="#161616" stroke-width="0.18" textLength="8.89" lengthAdjust="spacingAndGlyphs">d</text>
<text x="406.27" y="59.7" font-size="15.5" fill="#161616" stroke="#161616" stroke-width="0.18" textLength="8.89" lengthAdjust="spacingAndGlyphs">p</text>
<text x="415.16" y="59.7" font-size="15.5" fill="#161616" stroke="#161616" stroke-width="0.18" textLength="8.61" lengthAdjust="spacingAndGlyphs">e</text>
<text x="423.77" y="59.7" font-size="15.5" fill="#161616" stroke="#161616" stroke-width="0.18" textLength="5.76" lengthAdjust="spacingAndGlyphs">r</text>
<text x="429.53" y="59.7" font-size="15.5" fill="#161616" stroke="#161616" stroke-width="0.18" textLength="7.29" lengthAdjust="spacingAndGlyphs">s</text>
<text x="436.82" y="59.7" font-size="15.5" fill="#161616" stroke="#161616" stroke-width="0.18" textLength="8.57" lengthAdjust="spacingAndGlyphs">o</text>
<text x="445.39" y="59.7" font-size="15.5" fill="#161616" stroke="#161616" stroke-width="0.18" textLength="8.87" lengthAdjust="spacingAndGlyphs">n</text>
<text x="454.26" y="59.7" font-size="15.5" fill="#161616" stroke="#161616" stroke-width="0.18" textLength="8.58" lengthAdjust="spacingAndGlyphs">a</text>
<text x="462.84" y="59.7" font-size="15.5" fill="#161616" stroke="#161616" stroke-width="0.18" textLength="3.89" lengthAdjust="spacingAndGlyphs">l</text>
<text x="466.73" y="59.7" font-size="15.5" fill="#161616" stroke="#161616" stroke-width="0.18" textLength="3.89" lengthAdjust="spacingAndGlyphs">i</text>
<text x="470.62" y="59.7" font-size="15.5" fill="#161616" stroke="#161616" stroke-width="0.18" textLength="7.35" lengthAdjust="spacingAndGlyphs">z</text>
<text x="477.97" y="59.7" font-size="15.5" fill="#161616" stroke="#161616" stroke-width="0.18" textLength="8.61" lengthAdjust="spacingAndGlyphs">e</text>
<text x="486.58" y="59.7" font-size="15.5" fill="#161616" stroke="#161616" stroke-width="0.18" textLength="8.89" lengthAdjust="spacingAndGlyphs">d</text>
<text x="499.92" y="59.7" font-size="15.5" fill="#161616" stroke="#161616" stroke-width="0.18" textLength="10.78" lengthAdjust="spacingAndGlyphs">D</text>
<text x="510.70" y="59.7" font-size="15.5" fill="#161616" stroke="#161616" stroke-width="0.18" textLength="7.80" lengthAdjust="spacingAndGlyphs">L</text>
<text x="518.50" y="59.7" font-size="15.5" fill="#161616" stroke="#161616" stroke-width="0.18" textLength="8.44" lengthAdjust="spacingAndGlyphs">P</text>
<text x="526.94" y="59.7" font-size="15.5" fill="#161616" stroke="#161616" stroke-width="0.18" textLength="8.05" lengthAdjust="spacingAndGlyphs">F</text>
<text x="534.99" y="59.7" font-size="15.5" fill="#161616" stroke="#161616" stroke-width="0.18" textLength="9.78" lengthAdjust="spacingAndGlyphs">C</text>
</svg></body></html>
